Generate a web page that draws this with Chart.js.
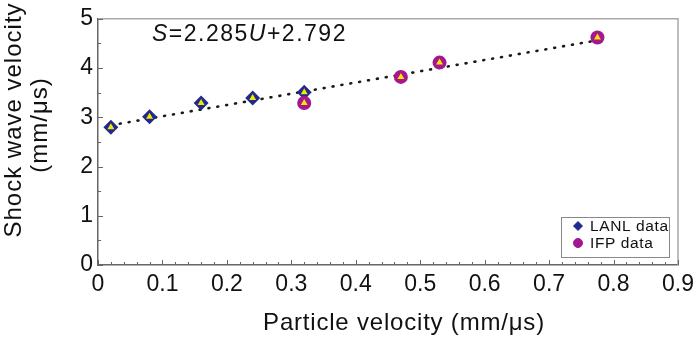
<!DOCTYPE html>
<html>
<head>
<meta charset="utf-8">
<script src="https://cdn.jsdelivr.net/npm/chart.js@4/dist/chart.umd.min.js"></script>
<style>
html,body{margin:0;padding:0;background:#fff;}
#wrap{width:700px;height:337px;position:relative;}
</style>
</head>
<body>
<div id="wrap"><canvas id="c" width="700" height="337"></canvas></div>
<script>
// ---- data ----
const lanlU = [0.02, 0.08, 0.16, 0.24, 0.32];
const lanlS = [2.80, 3.01, 3.29, 3.39, 3.51];
const ifpU  = [0.32, 0.47, 0.53, 0.775];
const ifpS  = [3.29, 3.82, 4.11, 4.62];
const fitU  = [0.02, 0.775];
const fitS  = [2.838, 4.563];
const xTickLabels = ['0','0.1','0.2','0.3','0.4','0.5','0.6','0.7','0.8','0.9'];
const yTickLabels = ['0','1','2','3','4','5'];
const legendLabels = ['LANL data', 'IFP data'];
const equationParts = [['S', true], ['=2.285', false], ['U', true], ['+2.792', false]];
const xTitle = 'Particle velocity (mm/\u03bcs)';
const yTitle = ['Shock wave velocity', '(mm/\u03bcs)'];

const FONT = '"Liberation Sans", Arial, sans-serif';
const navy = '#1f2a8c';
const purple = '#a3178f';
const yellow = '#f7e600';

const pts = (xs, ys) => xs.map((x, i) => ({x: x, y: ys[i]}));

const innerTicks = {
  id: 'innerTicks',
  afterDraw(chart) {
    const ctx = chart.ctx, a = chart.chartArea, xs = chart.scales.x, ys = chart.scales.y;
    ctx.save();
    ctx.strokeStyle = '#a8a8a8'; ctx.lineWidth = 1.5;
    ctx.beginPath();
    ctx.moveTo(a.left, a.top); ctx.lineTo(a.right, a.top); ctx.lineTo(a.right, a.bottom);
    ctx.stroke();
    ctx.strokeStyle = '#666'; ctx.lineWidth = 1;
    ctx.beginPath();
    for (let i = 0; i <= 45; i++) {
      const px = Math.round(xs.getPixelForValue(i * 0.02)) + 0.5;
      const len = (i % 5 === 0) ? 5 : 3;
      ctx.moveTo(px, a.bottom); ctx.lineTo(px, a.bottom - len);
    }
    for (let i = 0; i <= 10; i++) {
      const py = Math.round(ys.getPixelForValue(i * 0.5)) + 0.5;
      const len = (i % 2 === 0) ? 5 : 3;
      ctx.moveTo(a.left, py); ctx.lineTo(a.left + len, py);
    }
    ctx.stroke();
    ctx.restore();
  }
};

const texts = {
  id: 'texts',
  afterDraw(chart) {
    const ctx = chart.ctx;
    ctx.save();
    ctx.fillStyle = '#111';
    ctx.textBaseline = 'alphabetic';
    try { ctx.letterSpacing = '1.5px'; } catch (e) {}
    ctx.textAlign = 'left';
    let x = 152;
    equationParts.forEach(([t, it]) => {
      ctx.font = (it ? 'italic ' : '') + '23px ' + FONT;
      ctx.fillText(t, x, 41);
      x += ctx.measureText(t).width;
    });
    try { ctx.letterSpacing = '0.8px'; } catch (e) {}
    ctx.font = '24px ' + FONT;
    ctx.textAlign = 'center';
    ctx.fillText(xTitle, 404, 330);
    try { ctx.letterSpacing = '1px'; } catch (e) {}
    ctx.save();
    ctx.translate(21, 120);
    ctx.rotate(-Math.PI / 2);
    ctx.fillText(yTitle[0], 0, 0);
    ctx.restore();
    ctx.save();
    ctx.translate(47, 125);
    ctx.rotate(-Math.PI / 2);
    ctx.fillText(yTitle[1], 0, 0);
    ctx.restore();
    ctx.restore();
  }
};

const legendBox = {
  id: 'legendBox',
  afterDraw(chart) {
    const ctx = chart.ctx;
    ctx.save();
    ctx.strokeStyle = '#888'; ctx.lineWidth = 1;
    ctx.fillStyle = '#fff';
    ctx.fillRect(561, 217, 108, 40);
    ctx.strokeRect(561.5, 217.5, 108, 40);
    const ds = chart.data.datasets;
    const rows = [[ds[1], 226], [ds[2], 243]];
    rows.forEach(([d, y], i) => {
      ctx.fillStyle = d.backgroundColor;
      ctx.strokeStyle = d.backgroundColor;
      Chart.helpers.drawPoint(ctx, {pointStyle: d.pointStyle, radius: 4.5, borderWidth: 1}, 578, y);
      ctx.fillStyle = '#111';
      ctx.font = '15.5px ' + FONT;
      ctx.textBaseline = 'middle';
      ctx.textAlign = 'left';
      try { ctx.letterSpacing = '0.6px'; } catch (e) {}
      ctx.fillText(legendLabels[i], 590, y + 1);
    });
    ctx.restore();
  }
};

new Chart(document.getElementById('c'), {
  type: 'scatter',
  data: {
    datasets: [
      {
        type: 'line', label: 'fit', data: pts(fitU, fitS),
        borderColor: '#1a1a1a', borderWidth: 2.6, borderDash: [1, 8], borderCapStyle: 'round',
        pointRadius: 0, fill: false, order: 3
      },
      {
        label: legendLabels[0], data: pts(lanlU, lanlS),
        pointStyle: 'rectRot', pointRadius: 7.5, backgroundColor: navy, borderColor: navy, borderWidth: 0, order: 2
      },
      {
        label: legendLabels[1], data: pts(ifpU, ifpS),
        pointStyle: 'circle', pointRadius: 7, backgroundColor: purple, borderColor: purple, borderWidth: 0, order: 1
      },
      {
        label: 'inner', data: pts(lanlU.concat(ifpU), lanlS.concat(ifpS)),
        pointStyle: 'triangle', pointRadius: 4, backgroundColor: yellow, borderColor: yellow, borderWidth: 0, order: 0
      }
    ]
  },
  options: {
    responsive: false,
    animation: false,
    layout: {padding: {left: 0, right: 22, top: 10, bottom: 0}},
    plugins: {legend: {display: false}, tooltip: {enabled: false}},
    scales: {
      x: {
        type: 'linear', min: 0, max: 0.9,
        afterFit(s) { s.height = 72; },
        grid: {display: false, drawTicks: false},
        border: {display: true, color: '#666', width: 1.5},
        ticks: {
          stepSize: 0.1, padding: 6, color: '#111', maxRotation: 0,
          font: {family: FONT, size: 23},
          callback: (v, i) => xTickLabels[Math.round(v * 10)]
        },
        title: {display: false}
      },
      y: {
        type: 'linear', min: 0, max: 5,
        afterFit(s) { s.width = 98; },
        grid: {display: false, drawTicks: false},
        border: {display: true, color: '#666', width: 1.5},
        ticks: {
          stepSize: 1, padding: 5, color: '#111',
          font: {family: FONT, size: 23},
          callback: (v) => yTickLabels[Math.round(v)]
        },
        title: {display: false}
      }
    }
  },
  plugins: [innerTicks, texts, legendBox]
});
</script>
</body>
</html>
